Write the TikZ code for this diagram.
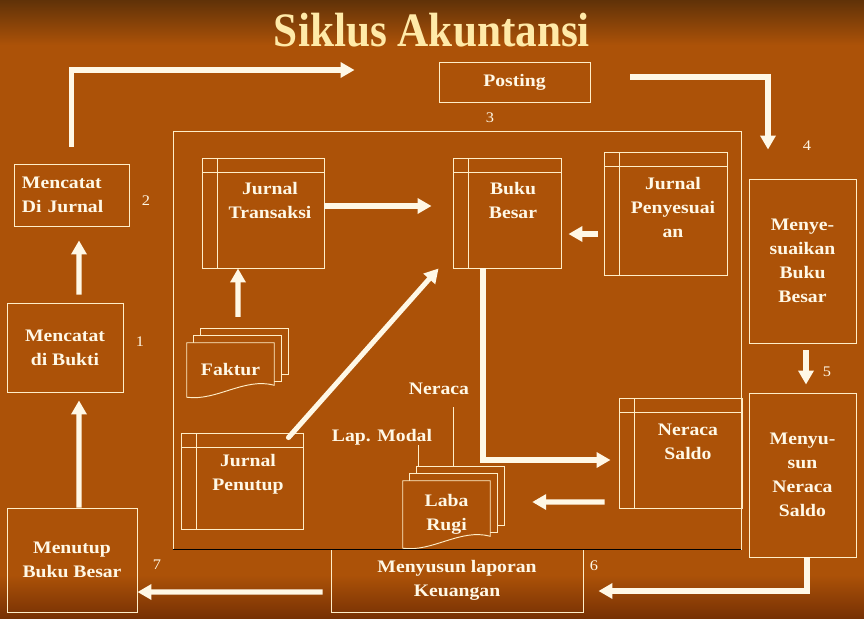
\documentclass[tikz,border=0pt]{standalone}
\usepackage{fontspec}
\setmainfont{Liberation Serif}[FakeStretch=1.12]
\newfontfamily\titlefont{Liberation Serif}[FakeStretch=0.9]
\usetikzlibrary{arrows.meta,backgrounds}
\definecolor{slide}{RGB}{172,82,8}
\definecolor{slidetop}{RGB}{96,50,8}
\definecolor{slidebot}{RGB}{118,48,4}
\definecolor{cream}{RGB}{255,248,230}
\definecolor{edge}{RGB}{255,238,200}
\definecolor{titel}{RGB}{255,234,168}
\tikzset{txt/.style={text=cream, font=\bfseries\fontsize{15}{20.5}\selectfont, align=center, inner sep=0pt},
 num/.style={text=cream, font=\fontsize{12.5}{14}\selectfont, inner sep=0pt},
 titletext/.style={text=titel, font=\titlefont\bfseries\fontsize{41}{45}\selectfont, anchor=base, inner sep=0pt}}
\tikzset{box/.style={txt, draw=edge, line width=0.8pt},
 ledger/.style={box, path picture={
   \draw[edge, line width=0.8pt] ([xshift=0.45cm]path picture bounding box.north west) -- ([xshift=0.45cm]path picture bounding box.south west)
     ([yshift=-0.42cm]path picture bounding box.north west) -- ([yshift=-0.42cm]path picture bounding box.north east);}},
 doc/.style={fill=slide, draw=edge, line width=0.8pt},
 flow/.style={draw=cream, line width=4.3pt, -{Triangle[length=0.42cm,width=0.45cm]}},
 lead/.style={draw=edge, line width=0.8pt}}

\begin{document}
\begin{tikzpicture}[x=0.03cm, y=-0.03cm]
   \useasboundingbox (0,0) rectangle (864,619);
   \begin{scope}[on background layer]
    \fill[slide] (0,0) rectangle (864,619);
    \shade[top color=slidetop, bottom color=slide] (0,0) rectangle (864,45);
    \shade[top color=slide, bottom color=slidebot] (0,575) rectangle (864,619);
   \end{scope}
   \node[titletext] (title) at (432,47) {Siklus Akuntansi};
   \node[box, minimum width=4.53cm, minimum height=1.2cm] (post) at (514.5,82) {Posting};
   \node[box, minimum width=3.45cm, minimum height=1.86cm, text width=2.97cm, align=left] (mdj) at (71.5,195) {Mencatat\\Di Jurnal};
   \node[box, minimum width=3.48cm, minimum height=2.67cm] (mdb) at (65,347.5) {Mencatat\\di Bukti};
   \node[box, minimum width=3.9cm, minimum height=3.12cm] (mtb) at (72,560) {Menutup\\Buku Besar};
   \node[box, minimum width=17.04cm, minimum height=12.54cm] (proc) at (457,340) {};
   \node[ledger, minimum width=3.66cm, minimum height=3.3cm] (jt) at (263,213) {};
   \node[txt] (jt-txt) at (270,200.5) {Jurnal\\Transaksi};
   \node[ledger, minimum width=3.24cm, minimum height=3.3cm] (bb) at (507,213) {};
   \node[txt] (bb-txt) at (513,200.5) {Buku\\Besar};
   \node[ledger, minimum width=3.69cm, minimum height=3.69cm] (jpy) at (665.5,213.5) {};
   \node[txt] (jpy-txt) at (673,207.5) {Jurnal\\Penyesuai\\an};
   \node[box, minimum width=3.21cm, minimum height=4.92cm] (msb) at (802.5,261) {Menye-\\suaikan\\Buku\\Besar};
   \node[box, minimum width=3.21cm, minimum height=4.92cm] (mns) at (802.5,475) {Menyu-\\sun\\Neraca\\Saldo};
   \node[ledger, minimum width=3.69cm, minimum height=3.3cm] (ns) at (680.5,453) {};
   \node[txt] (ns-txt) at (688,442) {Neraca\\Saldo};
   \node[ledger, minimum width=3.66cm, minimum height=2.88cm] (jpn) at (242,481) {};
   \node[txt] (jpn-txt) at (248,474) {Jurnal\\Penutup};
   \node[box, minimum width=7.56cm, minimum height=1.89cm] (mlk) at (457,580.5) {Menyusun laporan\\Keuangan};
   \draw[black, line width=0.8pt] (proc.south west) -- (proc.south east);
   \node[txt, minimum width=2.61cm, minimum height=1.62cm] (fk) at (230.5,370) {Faktur};
   \node[txt, minimum width=2.61cm, minimum height=2.01cm] (lr) at (446.5,514.5) {Laba\\Rugi};
   \begin{scope}[on background layer]
    \foreach \n in {fk,lr}{
     \foreach \d in {14,7}
      \filldraw[doc] ([xshift=\d*0.03cm,yshift=\d*0.03cm]\n.north west) rectangle ([xshift=\d*0.03cm,yshift=(\d+9)*0.03cm]\n.south east);
     \filldraw[doc] (\n.north west) -- (\n.south west) .. controls ([xshift=0.9cm,yshift=-0.12cm]\n.south west) and ([xshift=-0.9cm,yshift=0.6cm]\n.south east) .. ([yshift=0.36cm]\n.south east) -- (\n.north east) -- cycle;
    }
   \end{scope}
   \node[txt] (lm) at (382,437) {Lap. Modal};
   \node[txt] (nr) at (439,389) {Neraca};
   \coordinate (lm-end) at ([xshift=-0.855cm,yshift=0.42cm]lr.north);
   \coordinate (nr-end) at ([xshift=0.195cm,yshift=0.42cm]lr.north);
   \draw[lead] (lm-end) -- (lm-end |- lm.south);
   \draw[lead, shorten >=0.36cm] (nr-end) -- (nr-end |- nr.south);
   \node[num] (n1) at (140,342) {1};
   \node[num] (n2) at (146,201) {2};
   \node[num] (n3) at (490,118) {3};
   \node[num] (n4) at (807,146) {4};
   \node[num] (n5) at (827,372) {5};
   \node[num] (n6) at (594,566) {6};
   \node[num] (n7) at (157,565) {7};
   \draw[flow] ([xshift=0.21cm]mtb.north) -- ([xshift=0.42cm,yshift=-0.24cm]mdb.south);
   \draw[flow] ([xshift=0.42cm,yshift=0.24cm]mdb.north) -- ([xshift=0.225cm,yshift=-0.42cm]mdj.south);
   \draw[flow] ([yshift=0.51cm]mdj.north) |- ([xshift=-2.52cm,yshift=0.36cm]post.west);
   \draw[flow] ([xshift=1.2cm,yshift=0.15cm]post.east) -| ([xshift=-1.035cm,yshift=0.87cm]msb.north);
   \draw[flow] ([xshift=0.105cm,yshift=-0.21cm]msb.south) -- ([xshift=0.105cm,yshift=0.24cm]mns.north);
   \draw[flow] ([xshift=0.135cm]mns.south) |- ([xshift=0.45cm,yshift=-0.315cm]mlk.east);
   \draw[flow] ([xshift=-0.24cm,yshift=-0.345cm]mlk.west) -- ([yshift=-0.96cm]mtb.east);
   \draw[flow] ([yshift=0.21cm]jt.east) -- ([xshift=-0.63cm,yshift=0.21cm]bb.west);
   \draw[flow] ([xshift=-0.18cm,yshift=-0.615cm]jpy.west) -- ([xshift=0.21cm,yshift=-0.63cm]bb.east);
   \draw[flow, line cap=round] ([xshift=-0.45cm,yshift=-0.15cm]jpn.north east) -- ([xshift=-0.42cm]bb.south west);
   \draw[flow] ([xshift=-0.72cm]bb.south) |- ([xshift=-0.24cm,yshift=-0.21cm]ns.west);
   \draw[flow] ([xshift=-0.42cm,yshift=-1.47cm]ns.west) -- ([xshift=1.26cm,yshift=0.375cm]lr.east);
   \draw[flow] ([xshift=0.225cm,yshift=0.78cm]fk.north) -- ([xshift=-0.75cm]jt.south);
  \end{tikzpicture}
\end{document}
